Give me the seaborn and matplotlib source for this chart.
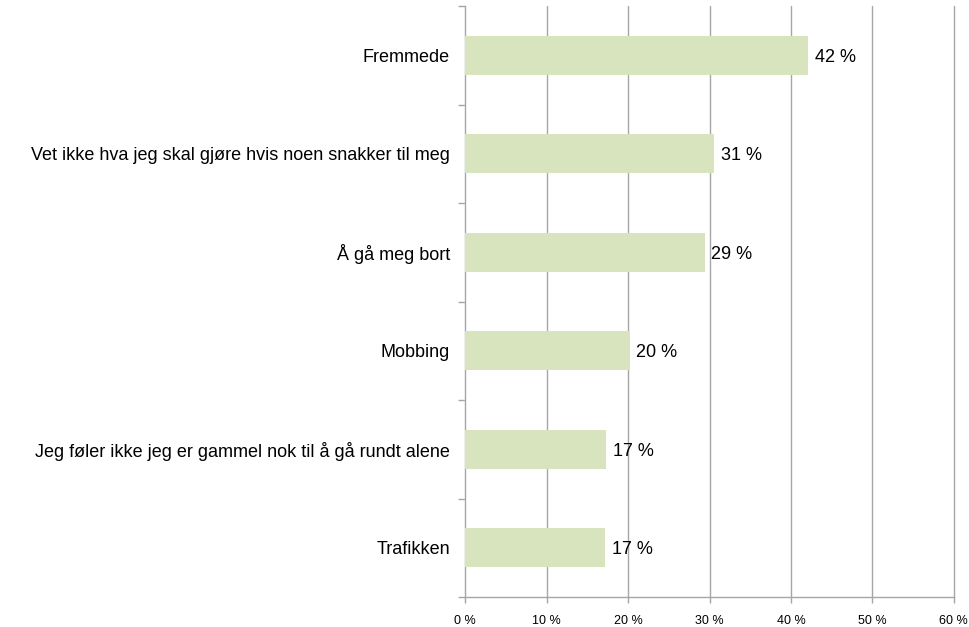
import matplotlib
matplotlib.use("Agg")
import matplotlib.pyplot as plt
import seaborn as sns
import pandas as pd
import numpy as np

categories = ["Fremmede",
              "Vet ikke hva jeg skal gjøre hvis noen snakker til meg",
              "Å gå meg bort",
              "Mobbing",
              "Jeg føler ikke jeg er gammel nok til å gå rundt alene",
              "Trafikken"]
values = [42.1, 30.6, 29.4, 20.2, 17.3, 17.2]
labels = ["42 %", "31 %", "29 %", "20 %", "17 %", "17 %"]
xticks = [0, 10, 20, 30, 40, 50, 60]
xticklabels = ["0 %", "10 %", "20 %", "30 %", "40 %", "50 %", "60 %"]

sns.set_style("white")
plt.rcParams['font.family'] = ['Liberation Sans', 'DejaVu Sans']
plt.rcParams['text.color'] = 'black'
plt.rcParams['xtick.color'] = '#A6A6A6'
plt.rcParams['ytick.color'] = '#A6A6A6'
plt.rcParams['xtick.labelcolor'] = 'black'
plt.rcParams['ytick.labelcolor'] = 'black'
plt.rcParams['ytick.left'] = True
plt.rcParams['xtick.bottom'] = True
plt.rcParams['ytick.minor.visible'] = False

grey = "#A6A6A6"
df = pd.DataFrame({"cat": categories, "val": values})
fig = plt.figure(figsize=(9.69, 6.27), dpi=100)
ax = fig.add_axes([0.4802, 0.0478, 0.5040, 0.9426])
sns.barplot(data=df, x="val", y="cat", orient="h", color="#D7E4BD",
            saturation=1, width=0.4, ax=ax, zorder=3, linewidth=0)

ax.set_xlim(0, 60)
ax.set_ylim(5.5, -0.5)
ax.set_xticks(xticks)
ax.set_xticklabels(xticklabels, fontsize=9)
for xv in xticks[1:]:
    ax.axvline(xv, color=grey, linewidth=1, zorder=0, clip_on=False)
ax.tick_params(axis="x", length=4, color=grey, width=1, pad=9, labelcolor="black")
ax.set_yticks(range(len(categories)))
ax.set_yticklabels(categories, fontsize=13, color="black")
ax.tick_params(axis="y", which="major", length=0, pad=11)
ax.set_yticks(np.arange(-0.5, 6.0, 1.0), minor=True)
ax.tick_params(axis="y", which="minor", left=True, length=5, color=grey, width=1)
ax.set_xlabel("")
ax.set_ylabel("")
for side in ["top", "right"]:
    ax.spines[side].set_visible(False)
for side in ["left", "bottom"]:
    ax.spines[side].set_color(grey)
    ax.spines[side].set_linewidth(1)

for i, (v, lab) in enumerate(zip(values, labels)):
    ax.text(v + 0.8, i + 0.02, lab, va="center", ha="left", fontsize=13, color="black", zorder=4)

fig.savefig("out.png", dpi=100)
